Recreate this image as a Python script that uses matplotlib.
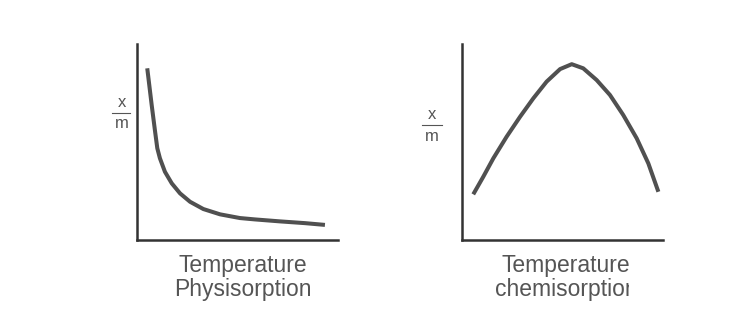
import matplotlib.pyplot as plt
from matplotlib.lines import Line2D
from matplotlib.patches import Rectangle

# Physisorption: x/m falls with temperature
phys_temp = [0.51, 0.73, 0.90, 1.01, 1.14, 1.39, 1.73, 2.14, 2.64, 3.30, 4.13, 5.12, 5.87, 7.11, 8.36, 9.35]
phys_xm = [8.76, 6.89, 5.53, 4.68, 4.17, 3.48, 2.89, 2.38, 1.95, 1.58, 1.31, 1.12, 1.05, 0.95, 0.86, 0.77]

# Chemisorption: x/m rises then falls
chem_temp = [0.56, 1.06, 1.56, 2.22, 2.89, 3.55, 4.21, 4.88, 5.46, 6.03, 6.70, 7.36, 8.02, 8.69, 9.27, 9.77]
chem_xm = [2.33, 3.23, 4.17, 5.27, 6.29, 7.23, 8.08, 8.72, 8.97, 8.76, 8.16, 7.40, 6.38, 5.19, 3.91, 2.46]

titles = ['Physisorption', 'chemisorption']
xlabel = 'Temperature'

ink = '#555555'
plt.rcParams['font.family'] = ['Liberation Sans', 'DejaVu Sans']

fig = plt.figure(figsize=(7.5, 3.24), dpi=100)
ax1 = fig.add_axes([137 / 750, 84 / 324, 201 / 750, 196 / 324])
ax2 = fig.add_axes([462 / 750, 84 / 324, 201 / 750, 196 / 324])

panels = [
    (ax1, phys_temp, phys_xm, -0.075, 0.70, 0.595, (-0.125, -0.035), 0.527),
    (ax2, chem_temp, chem_xm, -0.149, 0.64, 0.53, (-0.20, -0.10), 0.517),
]

for i, (ax, t, v, fx, yx, ym, (l0, l1), cx) in enumerate(panels):
    ax.plot(t, v, color='#505050', lw=2.9, solid_capstyle='butt', solid_joinstyle='round')
    ax.set_xlim(0, 10)
    ax.set_ylim(0, 10)
    ax.set_xticks([])
    ax.set_yticks([])
    for s in ['top', 'right']:
        ax.spines[s].set_visible(False)
    for s in ['left', 'bottom']:
        ax.spines[s].set_color('#333333')
        ax.spines[s].set_linewidth(1.8)

    # x/m fraction as y label
    ax.text(fx, yx, 'x', transform=ax.transAxes, ha='center', va='center', fontsize=12, color=ink)
    ax.text(fx, ym, 'm', transform=ax.transAxes, ha='center', va='center', fontsize=12, color=ink)
    ax.add_line(Line2D([l0, l1], [(yx + ym) / 2] * 2, transform=ax.transAxes,
                       color=ink, lw=0.8, clip_on=False))

    ax.text(cx, -0.128, xlabel, transform=ax.transAxes, ha='center', va='center',
            fontsize=16.5, color=ink)
    lab = ax.text(cx, -0.252, titles[i], transform=ax.transAxes, ha='center', va='center',
                  fontsize=16.5, color=ink)
    if i == 1:
        # the original image is cropped on the right of this word
        clip = Rectangle((0, 0), 629 / 750, 1, transform=fig.transFigure)
        lab.set_clip_path(clip)
        lab.set_clip_on(True)

plt.savefig('out.png', dpi=100)
